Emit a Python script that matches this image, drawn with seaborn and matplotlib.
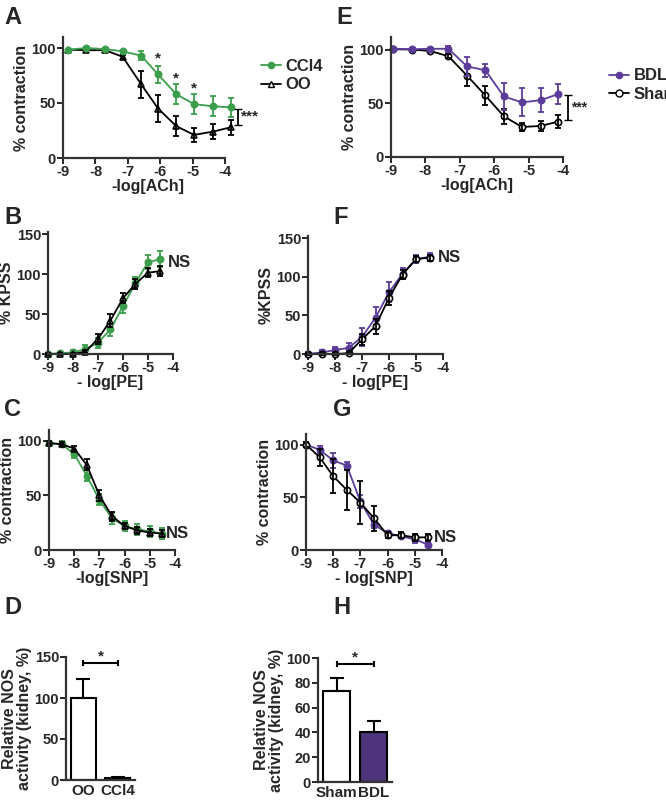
import matplotlib
matplotlib.use("Agg")
import matplotlib.pyplot as plt
import seaborn as sns
import pandas as pd

sns.set_theme(style="ticks")
plt.rcParams["font.family"] = ["Liberation Sans Narrow", "Liberation Sans", "DejaVu Sans"]
plt.rcParams["font.weight"] = "bold"
plt.rcParams["axes.labelweight"] = "bold"
plt.rcParams["axes.unicode_minus"] = False

GREEN = "#3a9e4a"
PURPLE = "#5b3c99"
PURPLE_BAR = "#4b2a86"

# ---- A: ACh, CCl4 vs OO
a_x = [-8.84, -8.28, -7.7, -7.16, -6.59, -6.07, -5.51, -4.96, -4.37, -3.82]
a_ccl4 = [98.5, 100, 99, 97, 93, 76, 58, 49, 47, 46]
a_ccl4_err = [1, 1, 1, 1, 4, 8, 9, 9, 9, 9]
a_oo = [98.5, 98, 98, 92, 67, 45, 29, 21, 24, 28]
a_oo_err = [1, 1, 1, 2, 12, 12, 9, 6, 7, 7]

# ---- E: ACh, BDL vs Sham
e_x = [-8.93, -8.4, -7.86, -7.33, -6.79, -6.26, -5.72, -5.19, -4.65, -4.14]
e_bdl = [101, 100.6, 101, 101, 84.5, 81, 56.5, 51, 53, 58.7]
e_bdl_err = [1, 1, 1, 3, 9, 6, 13, 13, 11, 9]
e_sham = [100.6, 100.3, 99, 94, 76, 57.5, 38, 28, 29, 33]
e_sham_err = [1, 1, 1, 2, 10, 9, 7, 4, 5, 6]

# ---- B / F: PE
pe_x = [-9, -8.5, -8, -7.5, -7, -6.5, -6, -5.5, -5, -4.5]
b_ccl4 = [0, 1, 2, 6, 14, 31, 60, 89, 115, 119]
b_ccl4_err = [1, 2, 3, 5, 6, 8, 9, 8, 9, 10]
b_oo = [0, 0, 0, 3, 19, 42, 70, 88, 102, 104]
b_oo_err = [1, 1, 1, 2, 6, 8, 6, 6, 6, 6]
f_bdl = [0, 2, 5, 8, 22, 47, 80, 104, 123, 126]
f_bdl_err = [2, 3, 4, 6, 12, 14, 13, 7, 5, 5]
f_sham = [0, 0, 0, 1, 19, 36, 73, 103, 123, 125]
f_sham_err = [1, 1, 1, 1, 7, 10, 9, 6, 4, 4]

# ---- C / G: SNP
snp_x = [-9, -8.5, -8, -7.5, -7, -6.5, -6, -5.5, -5, -4.5]
c_ccl4 = [98, 97, 88, 68, 46, 29, 22, 19, 17, 15]
c_ccl4_err = [2, 3, 4, 5, 5, 5, 5, 5, 5, 5]
c_oo = [98, 97, 93, 78, 50, 31, 22, 18, 16, 15]
c_oo_err = [2, 2, 2, 5, 5, 4, 3, 3, 3, 3]
g_bdl = [100, 95, 85, 80, 46, 24, 16, 13, 10, 5]
g_bdl_err = [2, 4, 7, 3, 6, 3, 2, 2, 3, 2]
g_sham = [100, 88, 70, 57, 45, 30, 14, 14, 12, 12]
g_sham_err = [2, 8, 16, 19, 20, 12, 3, 3, 3, 3]

# ---- D / H: NOS activity
d_groups = ["OO", "CCl4"]
d_vals = [100, 2]
d_err = [23, 2]
h_groups = ["Sham", "BDL"]
h_vals = [73, 40]
h_err = [11, 9]

W, H = 666, 800
fig = plt.figure(figsize=(W / 100, H / 100), dpi=100)

TICK_FS = 10.5
LABEL_FS = 11.5


def add_ax(x0, x1, y_top, y_bot):
    return fig.add_axes([x0 / W, 1 - y_bot / H, (x1 - x0) / W, (y_bot - y_top) / H])


def style(ax):
    sns.despine(ax=ax)
    for s in ("left", "bottom"):
        ax.spines[s].set_linewidth(1.6)
        ax.spines[s].set_color("#333333")
    ax.tick_params(width=1.4, length=4, labelsize=TICK_FS, pad=1)
    for t in ax.get_xticklabels() + ax.get_yticklabels():
        t.set_fontweight("bold")


def curve(ax, x, y, err, color, marker, filled):
    df = pd.DataFrame({"x": x, "y": y})
    sns.lineplot(data=df, x="x", y="y", ax=ax, color=color, lw=1.3,
                 marker=marker, markersize=4.5, markeredgecolor=color,
                 markerfacecolor=color if filled else "white", markeredgewidth=1.2,
                 legend=False, clip_on=False)
    ax.errorbar(x, y, yerr=err, fmt="none", ecolor=color, elinewidth=1.3, capsize=2.5,
                capthick=1.3, clip_on=False)


def curve_panel(ax, x, s1, s2, ylim, yticks, xlabel, ylabel, top, xmax=-4):
    curve(ax, x, *s1)
    curve(ax, x, *s2)
    ax.set_xlim(-9, xmax)
    ax.set_xticks([-9, -8, -7, -6, -5, -4])
    ax.set_ylim(*ylim)
    ax.set_yticks(yticks)
    ax.set_xlabel(xlabel, fontsize=LABEL_FS, labelpad=0)
    ax.set_ylabel(ylabel, fontsize=LABEL_FS, labelpad=2)
    ax.spines["bottom"].set_bounds(-9, -4)
    ax.spines["left"].set_bounds(0, top)
    style(ax)


def letter(x, y, s):
    fig.text(x / W, 1 - y / H, s, fontsize=17, fontweight="bold", va="center", ha="left")


# A
axA = add_ax(63, 232, 37, 158)
curve_panel(axA, a_x, (a_oo, a_oo_err, "black", "^", False),
            (a_ccl4, a_ccl4_err, GREEN, "o", True), (0, 110), [0, 50, 100],
            "-log[ACh]", "% contraction", 110, xmax=-3.79)
for xi, yi in zip(a_x[5:8], a_ccl4[5:8]):
    axA.text(xi, yi + 11, "*", ha="center", fontsize=11, fontweight="bold")
axA.errorbar([-3.6], [37.5], yerr=[7.5], fmt="none", ecolor="black", elinewidth=1.3,
             capsize=3, clip_on=False)
axA.text(-3.52, 37.5, "***", va="center", fontsize=11, fontweight="bold", clip_on=False)
h1 = plt.Line2D([], [], color=GREEN, marker="o", ms=4.5, lw=1.3)
h2 = plt.Line2D([], [], color="black", marker="^", ms=4.5, lw=1.3, mfc="white")
axA.legend([h1, h2], ["CCl4", "OO"], loc="center left", bbox_to_anchor=(1.08, 0.68),
           frameon=False, fontsize=12, handlelength=1.2, handletextpad=0.3, labelspacing=0.2)

# E
axE = add_ax(391, 563, 37, 157)
curve_panel(axE, e_x, (e_sham, e_sham_err, "black", "o", False),
            (e_bdl, e_bdl_err, PURPLE, "o", True), (0, 112), [0, 50, 100],
            "-log[ACh]", "% contraction", 112)
axE.errorbar([-3.85], [46.5], yerr=[11.5], fmt="none", ecolor="black", elinewidth=1.3,
             capsize=3, clip_on=False)
axE.text(-3.78, 46.5, "***", va="center", fontsize=10, fontweight="bold", clip_on=False)
h1 = plt.Line2D([], [], color=PURPLE, marker="o", ms=4.5, lw=1.3)
h2 = plt.Line2D([], [], color="black", marker="o", ms=5, lw=1.3, mfc="white")
axE.legend([h1, h2], ["BDL", "Sham"], loc="center left", bbox_to_anchor=(1.18, 0.6),
           frameon=False, fontsize=12, handlelength=1.2, handletextpad=0.3, labelspacing=0.2)

# B
axB = add_ax(48, 173, 232, 354)
curve_panel(axB, pe_x, (b_ccl4, b_ccl4_err, GREEN, "o", True),
            (b_oo, b_oo_err, "black", "^", False), (0, 153), [0, 50, 100, 150],
            "- log[PE]", "% KPSS", 153)
axB.text(-4.2, 115, "NS", fontsize=12, fontweight="bold", va="center")

# F
axF = add_ax(308, 443, 236, 354)
curve_panel(axF, pe_x, (f_bdl, f_bdl_err, PURPLE, "o", True),
            (f_sham, f_sham_err, "black", "o", False), (0, 153), [0, 50, 100, 150],
            "- log[PE]", "%KPSS", 153)
axF.text(-4.2, 125, "NS", fontsize=12, fontweight="bold", va="center")

# C
axC = add_ax(49, 175, 430, 550)
curve_panel(axC, snp_x, (c_ccl4, c_ccl4_err, GREEN, "o", True),
            (c_oo, c_oo_err, "black", "^", False), (0, 110), [0, 50, 100],
            "-log[SNP]", "% contraction", 110)
axC.text(-4.35, 15, "NS", fontsize=12, fontweight="bold", va="center")

# G
axG = add_ax(306, 442, 434, 550)
curve_panel(axG, snp_x, (g_bdl, g_bdl_err, PURPLE, "o", True),
            (g_sham, g_sham_err, "black", "o", False), (0, 110), [0, 50, 100],
            "- log[SNP]", "% contraction", 110)
axG.text(-4.3, 12, "NS", fontsize=12, fontweight="bold", va="center")


def bar_panel(ax, groups, vals, err, colors, ylim, yticks, bracket_y, top):
    df = pd.DataFrame({"g": groups, "v": vals})
    sns.barplot(data=df, x="g", y="v", hue="g", palette=colors, ax=ax, width=0.72,
                edgecolor="black", linewidth=1.5, legend=False)
    ax.errorbar(range(len(vals)), vals, yerr=[[0] * len(err), err], fmt="none",
                ecolor="black", elinewidth=1.5, capsize=5, capthick=1.5)
    ax.plot([0, 1], [bracket_y, bracket_y], color="black", lw=1.5)
    ax.errorbar([0, 1], [bracket_y] * 2, yerr=ylim[1] * 0.025, fmt="none", ecolor="black",
                elinewidth=1.5)
    ax.text(0.5, bracket_y + ylim[1] * 0.02, "*", ha="center", fontsize=11, fontweight="bold")
    ax.set_xlim(-0.5, 1.5)
    ax.set_ylim(*ylim)
    ax.set_yticks(yticks)
    ax.set_xlabel("")
    ax.set_ylabel("Relative NOS\nactivity (kidney, %)", fontsize=LABEL_FS, labelpad=2,
                  linespacing=1.0)
    ax.spines["left"].set_bounds(0, top)
    style(ax)
    ax.tick_params(axis="x", labelsize=11, length=0, pad=3)


# D
axD = add_ax(66, 135, 657, 780)
bar_panel(axD, d_groups, d_vals, d_err, ["white", GREEN], (0, 150), [0, 50, 100, 150], 143, 150)
# H
axH = add_ax(318, 392, 658, 782)
bar_panel(axH, h_groups, h_vals, h_err, ["white", PURPLE_BAR], (0, 100),
          [0, 20, 40, 60, 80, 100], 95, 100)

for x, y, s in [(4, 18, "A"), (4, 218, "B"), (4, 410, "C"), (4, 607, "D"),
                (336, 18, "E"), (333, 218, "F"), (333, 410, "G"), (333, 607, "H")]:
    letter(x, y, s)

fig.savefig("out.png", dpi=100)
